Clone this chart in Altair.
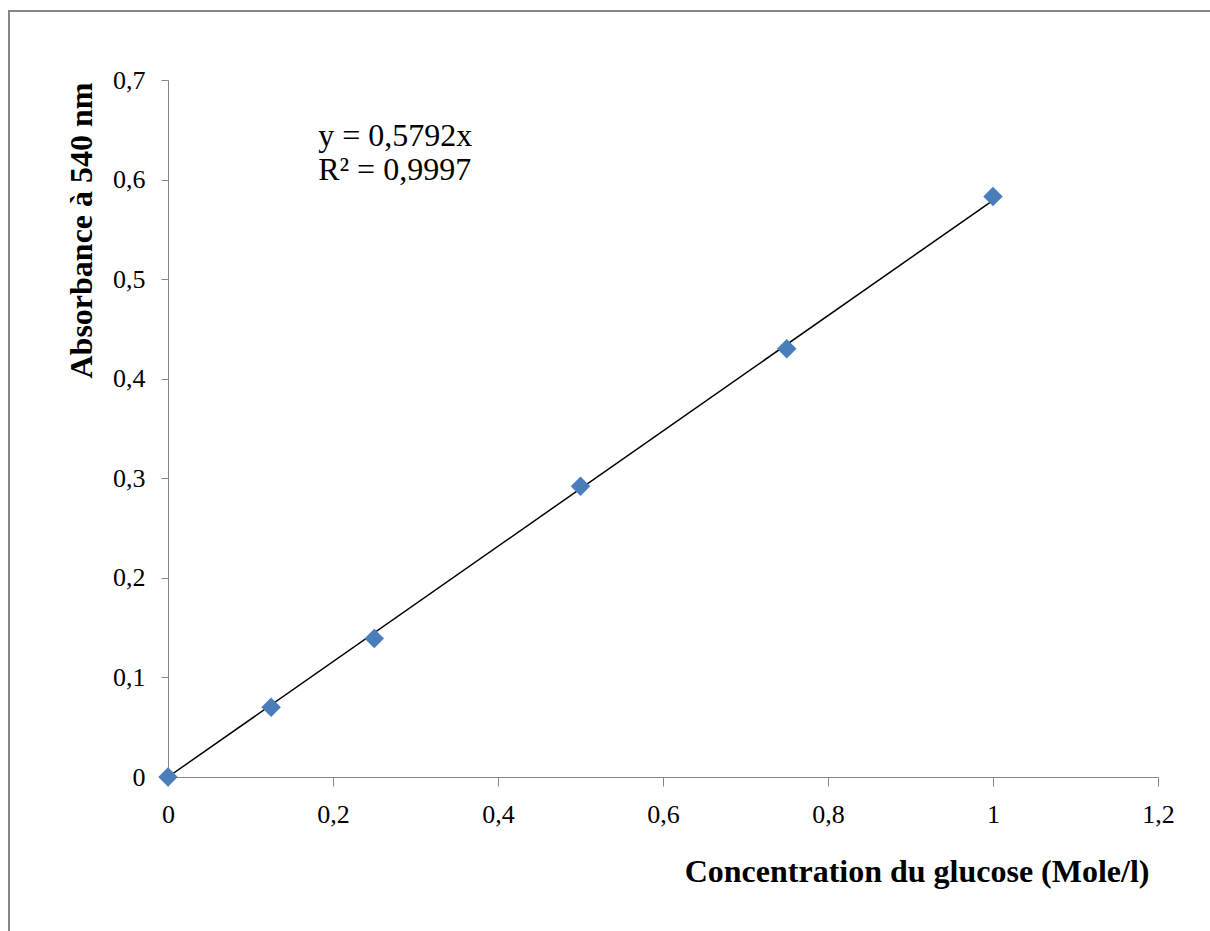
import altair as alt
import pandas as pd

# Data
concentration = [0, 0.125, 0.25, 0.5, 0.75, 1.0]
absorbance = [0.0, 0.070, 0.139, 0.292, 0.430, 0.583]
slope = 0.5792
fit_x = [0.0, 1.0]
x_ticks = [0, 0.2, 0.4, 0.6, 0.8, 1.0, 1.2]
y_ticks = [0, 0.1, 0.2, 0.3, 0.4, 0.5, 0.6, 0.7]
annotation = ["y = 0,5792x", "R² = 0,9997"]

FONT = "Liberation Serif"
AXIS_GRAY = "#868686"
BLUE = "#4A7EBB"

pts = pd.DataFrame({"x": concentration, "y": absorbance})
fit = pd.DataFrame({"x": fit_x, "y": [slope * v for v in fit_x]})

label_expr = "replace(format(datum.value, '~g'), '.', ',')"

x_scale = alt.Scale(domain=[0, 1.2], nice=False, zero=False)
y_scale = alt.Scale(domain=[0, 0.7], nice=False, zero=False)

x_axis = alt.Axis(
    values=x_ticks, labelExpr=label_expr, grid=False, labelFlush=False,
    domainColor=AXIS_GRAY, tickColor=AXIS_GRAY, tickSize=9, labelPadding=15,
    labelFont=FONT, labelFontSize=26, labelColor="black",
    title="Concentration du glucose (Mole/l)", titleFont=FONT, titleFontSize=32,
    titleFontWeight="bold", titleColor="black", titleAnchor="end", titleAlign="right",
    titleX=981, titleY=104, titleBaseline="alphabetic",
)
y_axis = alt.Axis(
    values=y_ticks, labelExpr=label_expr, grid=False, labelFlush=False,
    domainColor=AXIS_GRAY, tickColor=AXIS_GRAY, tickSize=7, labelPadding=16,
    labelFont=FONT, labelFontSize=26, labelColor="black",
    title="Absorbance à 540 nm", titleFont=FONT, titleFontSize=32,
    titleFontWeight="bold", titleColor="black", titleAngle=270,
    titleX=-87, titleY=150, titleAlign="center", titleBaseline="middle",
)

line = alt.Chart(fit).mark_line(color="black", strokeWidth=1.5).encode(
    x=alt.X("x:Q", scale=x_scale, axis=x_axis),
    y=alt.Y("y:Q", scale=y_scale, axis=y_axis),
)

points = alt.Chart(pts).mark_point(
    shape="diamond", filled=True, size=380, color=BLUE, opacity=1
).encode(
    x=alt.X("x:Q", scale=x_scale),
    y=alt.Y("y:Q", scale=y_scale),
)

text = alt.Chart(pd.DataFrame({"t": [annotation]})).mark_text(
    font=FONT, fontSize=32, align="left", baseline="alphabetic",
    lineHeight=34, color="black"
).encode(
    x=alt.datum(0.182), y=alt.datum(0.634), text="t"
)

border = alt.Chart(pd.DataFrame({"a": [0]})).mark_rect(
    filled=False, stroke=AXIS_GRAY, strokeWidth=2
).encode(
    x=alt.value(-159), x2=alt.value(1100), y=alt.value(-69), y2=alt.value(900)
)

chart = alt.layer(border, line, points, text).properties(
    width=990, height=697,
    autosize=alt.AutoSizeParams(type="none"),
    padding={"left": 168, "top": 80, "right": 52, "bottom": 154},
).configure(
    background="white", font=FONT
).configure_view(stroke=None)

chart.save("out.html", embed_options={"renderer": "svg", "actions": False})
